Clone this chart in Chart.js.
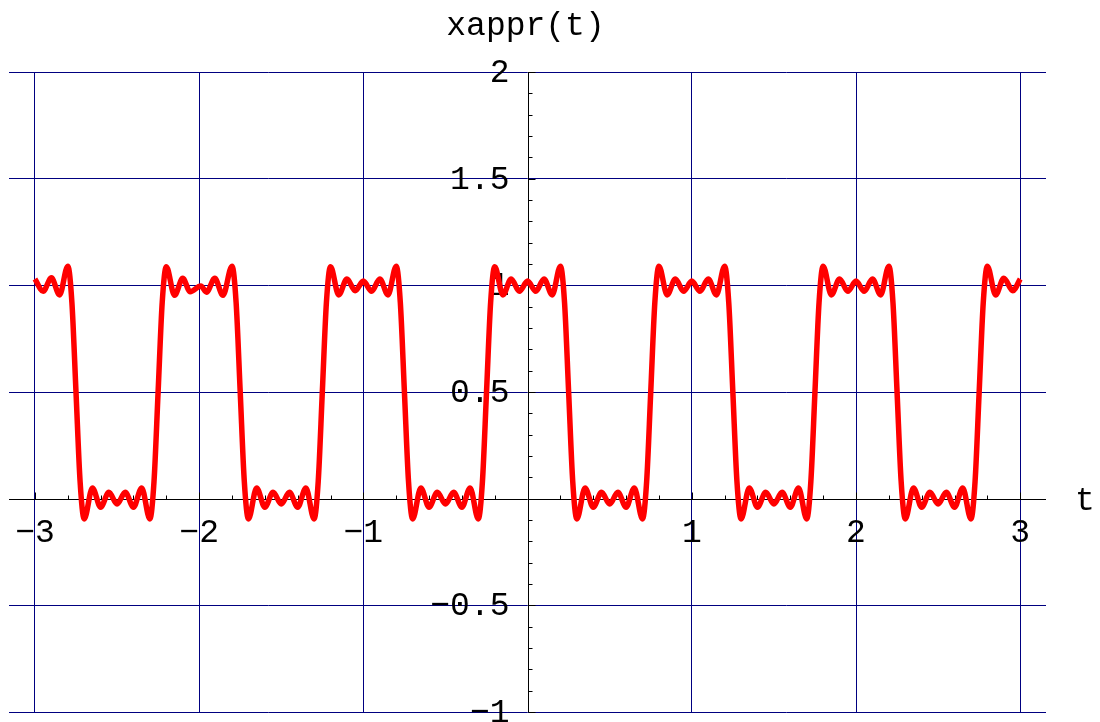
<!DOCTYPE html>
<html>
<head>
<meta charset="utf-8">
<script src="https://cdn.jsdelivr.net/npm/chart.js@4/dist/chart.umd.min.js"></script>
<style>
  html, body { margin: 0; padding: 0; background: #fff; }
  canvas { display: block; }
</style>
</head>
<body>
<canvas id="plot" width="1100" height="722"></canvas>
<script>
// sample positions (t) and curve values
const tValues = [
  -3.00, -2.95, -2.90, -2.85, -2.80, -2.775, -2.75, -2.725, -2.70, -2.65, -2.60, -2.55, -2.50, -2.45, -2.40, -2.35, -2.30, -2.275, -2.25, -2.225, -2.20, -2.15, -2.10, -2.055,
  -1.99, -1.955, -1.905, -1.855, -1.80, -1.775, -1.75, -1.725, -1.70, -1.65, -1.60, -1.55, -1.50, -1.45, -1.40, -1.35, -1.30, -1.275, -1.25, -1.225, -1.20, -1.15, -1.10, -1.05,
  -1.00, -0.95, -0.90, -0.85, -0.80, -0.775, -0.75, -0.725, -0.70, -0.65, -0.60, -0.55, -0.50, -0.45, -0.40, -0.35, -0.30, -0.275, -0.25, -0.225, -0.20, -0.15, -0.10, -0.05,
  0.00, 0.05, 0.10, 0.15, 0.20, 0.225, 0.25, 0.275, 0.30, 0.35, 0.40, 0.45, 0.50, 0.55, 0.60, 0.65, 0.70, 0.725, 0.75, 0.775, 0.80, 0.85, 0.90, 0.95,
  1.00, 1.05, 1.10, 1.15, 1.20, 1.225, 1.25, 1.275, 1.30, 1.35, 1.40, 1.45, 1.50, 1.55, 1.60, 1.65, 1.70, 1.725, 1.75, 1.775, 1.80, 1.85, 1.90, 1.95,
  2.00, 2.05, 2.10, 2.15, 2.20, 2.225, 2.25, 2.275, 2.30, 2.35, 2.40, 2.45, 2.50, 2.55, 2.60, 2.65, 2.70, 2.725, 2.75, 2.775, 2.80, 2.85, 2.90, 2.955,
  3.00
];
const xapprValues = [
  1.03, 0.972, 1.035, 0.955, 1.09, 0.92, 0.5, 0.08, -0.095, 0.05, -0.04, 0.03, -0.025, 0.03, -0.04, 0.05, -0.095, 0.08, 0.5, 0.92, 1.087, 0.953, 1.033, 0.97,
  0.997, 0.968, 1.033, 0.953, 1.09, 0.92, 0.5, 0.08, -0.095, 0.05, -0.04, 0.03, -0.025, 0.03, -0.04, 0.05, -0.095, 0.08, 0.5, 0.92, 1.087, 0.955, 1.03, 0.975,
  1.02, 0.972, 1.03, 0.955, 1.09, 0.92, 0.5, 0.08, -0.095, 0.05, -0.04, 0.03, -0.025, 0.03, -0.04, 0.05, -0.095, 0.08, 0.5, 0.92, 1.087, 0.955, 1.03, 0.972,
  1.02, 0.972, 1.03, 0.955, 1.09, 0.92, 0.5, 0.08, -0.095, 0.05, -0.04, 0.03, -0.025, 0.03, -0.04, 0.05, -0.095, 0.08, 0.5, 0.92, 1.09, 0.955, 1.03, 0.972,
  1.02, 0.972, 1.03, 0.955, 1.09, 0.92, 0.5, 0.08, -0.095, 0.05, -0.04, 0.03, -0.025, 0.03, -0.04, 0.05, -0.095, 0.08, 0.5, 0.92, 1.09, 0.955, 1.03, 0.972,
  1.02, 0.972, 1.03, 0.955, 1.09, 0.92, 0.5, 0.08, -0.095, 0.05, -0.04, 0.03, -0.025, 0.03, -0.04, 0.05, -0.095, 0.08, 0.5, 0.92, 1.09, 0.955, 1.033, 0.975,
  1.03
];

// grid lines and tick labels
const xGridValues = [-3, -2, -1, 0, 1, 2, 3];
const yGridValues = [-1, -0.5, 0, 0.5, 1, 1.5, 2];
const xTickValues = [-3, -2, -1, 1, 2, 3];
const xTickLabels = ['\u22123', '\u22122', '\u22121', '1', '2', '3'];
const yTickValues = [-1, -0.5, 0.5, 1, 1.5, 2];
const yTickLabels = ['\u22121', '\u22120.5', '0.5', '1', '1.5', '2'];

const xAxisTitle = 't';
const yAxisTitle = 'xappr(t)';

const GRID = '#000080';
const FONT = '33px "Liberation Mono", "Courier New", monospace';

const axesPlugin = {
    id: 'centerAxes',
    beforeDatasetsDraw(chart) {
        const ctx = chart.ctx;
        const area = chart.chartArea;
        const xs = chart.scales.x;
        const ys = chart.scales.y;
        const x0 = Math.round(xs.getPixelForValue(0)) + 0.5;
        const y0 = Math.round(ys.getPixelForValue(0)) + 0.5;

        ctx.save();
        ctx.strokeStyle = '#000';
        ctx.lineWidth = 1;
        ctx.beginPath();
        ctx.moveTo(area.left, y0);
        ctx.lineTo(area.right, y0);
        ctx.moveTo(x0, area.top);
        ctx.lineTo(x0, area.bottom);

        // x ticks, every 0.2, pointing up
        for (let i = -15; i <= 15; i++) {
            const px = Math.round(xs.getPixelForValue(i / 5)) + 0.5;
            const len = (i % 5 === 0) ? 7 : 4;
            ctx.moveTo(px, y0);
            ctx.lineTo(px, y0 - len);
        }
        // y ticks, every 0.1, pointing right
        for (let i = -10; i <= 20; i++) {
            const py = Math.round(ys.getPixelForValue(i / 10)) + 0.5;
            const len = (i % 5 === 0) ? 7 : 4;
            ctx.moveTo(x0, py);
            ctx.lineTo(x0 + len, py);
        }
        ctx.stroke();

        ctx.fillStyle = '#000';
        ctx.font = FONT;
        ctx.textBaseline = 'alphabetic';

        ctx.textAlign = 'center';
        xTickValues.forEach((v, i) => {
            ctx.fillText(xTickLabels[i], xs.getPixelForValue(v), y0 + 42);
        });

        ctx.textAlign = 'right';
        yTickValues.forEach((v, i) => {
            ctx.fillText(yTickLabels[i], x0 - 19, ys.getPixelForValue(v) + 10);
        });

        ctx.textAlign = 'center';
        ctx.fillText(yAxisTitle, x0 - 3, 35);
        ctx.fillText(xAxisTitle, 1085, y0 + 10);
        ctx.restore();
    }
};

new Chart(document.getElementById('plot'), {
    type: 'line',
    data: {
        datasets: [{
            data: tValues.map((t, i) => ({ x: t, y: xapprValues[i] })),
            borderColor: '#ff0000',
            borderWidth: 5.5,
            borderJoinStyle: 'round',
            pointRadius: 0,
            fill: false,
            cubicInterpolationMode: 'monotone'
        }]
    },
    options: {
        responsive: false,
        animation: false,
        events: [],
        layout: { padding: { left: 9, right: 54, top: 72, bottom: 10 } },
        plugins: { legend: { display: false }, tooltip: { enabled: false } },
        scales: {
            x: {
                type: 'linear',
                min: -3.158,
                max: 3.157,
                afterBuildTicks: scale => { scale.ticks = xGridValues.map(v => ({ value: v })); },
                ticks: { display: false },
                border: { display: false },
                grid: {
                    drawTicks: false,
                    lineWidth: 1,
                    color: c => (c.tick && c.tick.value === 0) ? 'rgba(0,0,0,0)' : GRID
                }
            },
            y: {
                type: 'linear',
                min: -1,
                max: 2,
                afterBuildTicks: scale => { scale.ticks = yGridValues.map(v => ({ value: v })); },
                ticks: { display: false },
                border: { display: false },
                grid: {
                    drawTicks: false,
                    lineWidth: 1,
                    color: c => (c.tick && c.tick.value === 0) ? 'rgba(0,0,0,0)' : GRID
                }
            }
        }
    },
    plugins: [axesPlugin]
});
</script>
</body>
</html>
